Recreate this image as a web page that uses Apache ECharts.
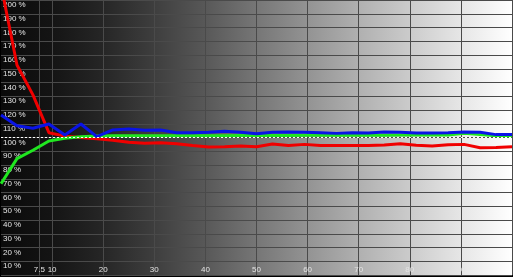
<!DOCTYPE html>
<html>
<head>
<meta charset="utf-8">
<script src="https://cdn.jsdelivr.net/npm/echarts@6/dist/echarts.min.js"></script>
<style>
html,body{margin:0;padding:0;background:#000;}
#c{width:513px;height:277px;}
</style>
</head>
<body>
<div id="c"></div>
<script>
// Stimulus levels (% of white)
var levels = [0, 3.125, 6.25, 9.375, 12.5, 15.625, 18.75, 21.875, 25, 28.125, 31.25, 34.375, 37.5, 40.625, 43.75, 46.875, 50,
  53.125, 56.25, 59.375, 62.5, 65.625, 68.75, 71.875, 75, 78.125, 81.25, 84.375, 87.5, 90.625, 93.75, 96.875, 100];
var redValues = [211, 152.7, 131, 103.5, 101, 100, 99, 98, 96.5, 95.8, 96.2, 95.5, 94.1, 93.1, 93.3, 93.8, 93.3,
  95.3, 94.1, 95, 94.1, 94.1, 94.1, 94.1, 94.5, 95.5, 94.3, 93.8, 94.8, 95, 92.6, 92.8, 93.3];
var greenValues = [66.4, 84.6, 90.7, 97.5, 99.4, 100.6, 101.1, 101.3, 101.3, 101.2, 101.3, 101.2, 101.3, 101.2, 101.3, 101.4, 101.4,
  101.5, 101.5, 101.6, 101.6, 101.6, 101.6, 101.6, 101.7, 101.8, 101.8, 101.8, 101.9, 103, 102.1, 101.3, 101];
var blueValues = [116.4, 108.5, 106.7, 109.8, 101.8, 109.8, 100.6, 105.5, 106.2, 105.2, 105.5, 103.5, 103.5, 103.8, 104.5, 103.8, 102.8,
  103.8, 104, 103.8, 103.5, 103, 103.5, 103.3, 104, 103.8, 103.3, 103.3, 103.5, 104, 103.8, 102.1, 102.1];
var xTickLabels = [7.5, 10, 20, 30, 40, 50, 60, 70, 80, 90];
var xGridValues = [7.5, 10, 20, 30, 40, 50, 60, 70, 80, 90, 100];

function pairs(vals){ return vals.map(function(v,i){ return [levels[i], v]; }); }

var chart = echarts.init(document.getElementById('c'), null, {renderer:'canvas'});
var labelFont = {fontFamily:'Liberation Sans, Arial, sans-serif', fontSize:8, color:'#e4e4e4'};
chart.setOption({
  animation:false,
  backgroundColor:'#000',
  grid:{left:0,right:1,top:0,bottom:2,show:true,borderWidth:0,
    backgroundColor:{type:'linear',x:0,y:0,x2:1,y2:0,colorStops:[
      {offset:0,color:'#0a0a0a'},{offset:0.1,color:'#141414'},{offset:0.2,color:'#262626'},
      {offset:0.3,color:'#3e3e3e'},{offset:0.4,color:'#585858'},{offset:0.5,color:'#767676'},
      {offset:0.6,color:'#939393'},{offset:0.7,color:'#b0b0b0'},{offset:0.8,color:'#cbcbcb'},
      {offset:0.9,color:'#e6e6e6'},{offset:1,color:'#ffffff'}]}},
  xAxis:{type:'value',min:0,max:100,interval:10,
    axisLine:{show:false},
    axisTick:{show:false,customValues:xGridValues},
    splitLine:{show:true,lineStyle:{color:'#4a4a4a',width:1}},
    axisLabel:Object.assign({inside:true,margin:1,customValues:xTickLabels,
      formatter:function(v){return String(v);}},labelFont)},
  yAxis:{type:'value',min:0,max:200,interval:10,
    axisLine:{show:false},axisTick:{show:false},
    splitLine:{show:true,lineStyle:{color:'#4a4a4a',width:1}},
    axisLabel:Object.assign({inside:true,margin:2,verticalAlign:'top',padding:[1,0,0,0],
      formatter:function(v){return v===0?'':v+' %';}},labelFont)},
  series:[
    {type:'line',data:pairs(redValues),symbol:'none',lineStyle:{color:'#f00000',width:3},itemStyle:{color:'#f00000'},
     markLine:{silent:true,symbol:'none',label:{show:false},
       lineStyle:{color:'#ffffff',type:[2,2],width:1},data:[{yAxis:100}]}},
    {type:'line',data:pairs(greenValues),symbol:'none',lineStyle:{color:'#20e620',width:3},itemStyle:{color:'#20e620'}},
    {type:'line',data:pairs(blueValues),symbol:'none',lineStyle:{color:'#0a14e6',width:3},itemStyle:{color:'#0a14e6'}}
  ]
});
</script>
</body>
</html>
